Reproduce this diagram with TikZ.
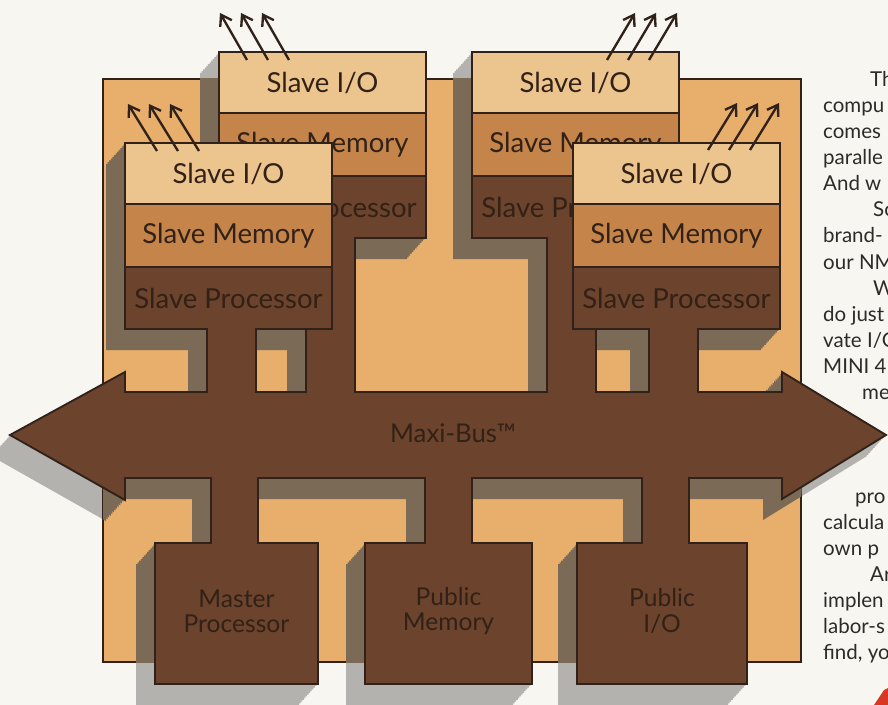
\documentclass[tikz,border=0pt]{standalone}
\usepackage{fontspec}
\setmainfont{Lato}
\usetikzlibrary{arrows.meta}
\definecolor{paper}{RGB}{248,246,241}
\definecolor{board}{RGB}{232,174,108}
\definecolor{iotan}{RGB}{236,196,142}
\definecolor{memtan}{RGB}{196,132,74}
\definecolor{cpubrown}{RGB}{108,67,44}
\definecolor{edge}{RGB}{48,34,26}
\definecolor{shadein}{RGB}{122,106,86}
\definecolor{shadeout}{RGB}{180,178,174}
\definecolor{inkbrown}{RGB}{50,33,23}
\definecolor{ink}{RGB}{45,42,40}
\definecolor{logored}{RGB}{215,55,35}

\begin{document}
\begin{tikzpicture}[x=0.03cm, y=-0.03cm,
  outline/.style={draw=edge, line width=1.6pt},
  lbl/.style={font=\fontsize{23.5}{26}\selectfont, text=inkbrown, inner sep=0pt},
  boxlbl/.style={font=\fontsize{21}{21.5}\selectfont, text=inkbrown, align=center, inner sep=0pt},
  iolines/.style={draw=edge, line width=2pt, -{Straight Barb[length=3mm, width=4mm]}},
  coltext/.style={font=\fontsize{17.5}{20}\selectfont, text=ink, anchor=base west, inner sep=0pt}]
% geometry in pixels of the 888 x 705 page, y running down
% stacks 207 wide, bands 61/63/62 high, bus from y=392 to y=478
\def\boardshapes{
  (219,52) rectangle (426,238) (306,238) rectangle (355,392)
  (472,52) rectangle (679,238) (547,238) rectangle (596,392)
  (125,143) rectangle (332,329) (207,329) rectangle (256,392)
  (573,143) rectangle (780,329) (649,329) rectangle (698,392)
  (10,435) -- (125,372) -- (125,392) -- (782,392) -- (782,372) -- (886,435)
    -- (782,499) -- (782,478) -- (125,478) -- (125,500) -- cycle
  (211,478) rectangle (258,543) (155,543) rectangle (318,684)
  (425,478) rectangle (472,543) (365,543) rectangle (532,684)
  (642,478) rectangle (689,543) (577,543) rectangle (747,684)
}

% ---- page ----
\fill[paper] (0,0) rectangle (888,705);
\useasboundingbox (0,0) rectangle (888,705);

% ---- cast shadow on the paper ----
\foreach \s in {1,...,12}{ \fill[shadeout, shift={(-19*\s/12,21*\s/12)}] \boardshapes; }

% ---- board ----
\fill[board] (103,79) rectangle (801,662);
\draw[outline] (103,79) rectangle (801,662);

% ---- cast shadow on the board ----
\begin{scope}
  \clip (103,79) rectangle (801,662);
  \foreach \s in {1,...,12}{ \fill[shadein, shift={(-19*\s/12,21*\s/12)}] \boardshapes; }
\end{scope}

% ---- slave stacks: back pair first, then front pair ----
\foreach \n/\x/\y/\sx in {bl/219/52/306, br/472/52/547, fl/125/143/207, fr/573/143/649}{
  \filldraw[outline, fill=cpubrown] (\x,\y+124) -- (\x+207,\y+124) -- (\x+207,\y+186)
    -- (\sx+49,\y+186) -- (\sx+49,392) -- (\sx,392) -- (\sx,\y+186) -- (\x,\y+186) -- cycle;
  \filldraw[outline, fill=memtan] (\x,\y+61) rectangle (\x+207,\y+124);
  \filldraw[outline, fill=iotan] (\x,\y) rectangle (\x+207,\y+61);
  \node[lbl] (\n-io) at (\x+103.5,\y+31) {Slave I/O};
  \node[lbl] (\n-mem) at (\x+103.5,\y+93) {Slave Memory};
  \node[lbl] (\n-cpu) at (\x+103.5,\y+155) {Slave Processor};
}

% ---- private I/O lines, three per slave ----
\foreach \n/\x/\y/\dx in {bl/247/60/-27, br/607/60/28, fl/157/151/-29, fr/708/150/29}{
  \foreach \k in {0,1,2}{
    \coordinate (\n-out\k) at (\x+21*\k,\y);
    \coordinate (\n-tip\k) at (\x+21*\k+\dx,\y-47);
    \draw[iolines] (\n-out\k) -- (\n-tip\k);
  }
}

% ---- Maxi-Bus ----
\filldraw[outline, fill=cpubrown] (10,435) -- (125,372) -- (125,392) -- (782,392) -- (782,372)
  -- (886,435) -- (782,499) -- (782,478) -- (125,478) -- (125,500) -- cycle;

% ---- master and public units under the bus ----
\foreach \n/\x/\w/\sx/\txt in {mp/155/163/211/{Master\\Processor}, pm/365/167/425/{Public\\Memory}, pio/577/170/642/{Public\\I/O}}{
  \filldraw[outline, fill=cpubrown] (\sx,478) -- (\sx+47,478) -- (\sx+47,543) -- (\x+\w,543)
    -- (\x+\w,684) -- (\x,684) -- (\x,543) -- (\sx,543) -- cycle;
  \node[boxlbl] (\n) at (\x+\w/2,611) {\txt};
}

% ---- hide the seams where stems meet the bus ----
\foreach \sx in {306,547,207,649}{ \fill[cpubrown] (\sx+1.2,386) rectangle (\sx+47.8,398); }
\foreach \sx in {211,425,642}{ \fill[cpubrown] (\sx+1.2,472) rectangle (\sx+45.8,484); }

\node[boxlbl, font=\fontsize{22}{22}\selectfont] (maxibus) at (453,433) {Maxi-Bus™};

% ---- copy column, cut by the page edge ----
\begin{scope}
  \clip (0,0) rectangle (888,705);
  \foreach \k/\ix/\t in {0/870/Th, 1/823/compu, 2/823/comes, 3/823/paralle, 4/823/And w,
      5/873/So, 6/823/brand-, 7/823/our NM, 8/873/W, 9/823/do just, 10/823/{vate I/O},
      11/823/MINI 4, 12/862/me, 16/855/pro, 17/823/calcula, 18/823/own p, 19/870/Ar,
      20/823/implen, 21/823/labor-s, 22/823/{find, yo}}{
    \node[coltext] (col\k) at (\ix,87+26*\k) {\t};
  }
  \fill[logored] (874,705) -- (884,690) -- (888,688) -- (888,705) -- cycle;
\end{scope}
\end{tikzpicture}
\end{document}
